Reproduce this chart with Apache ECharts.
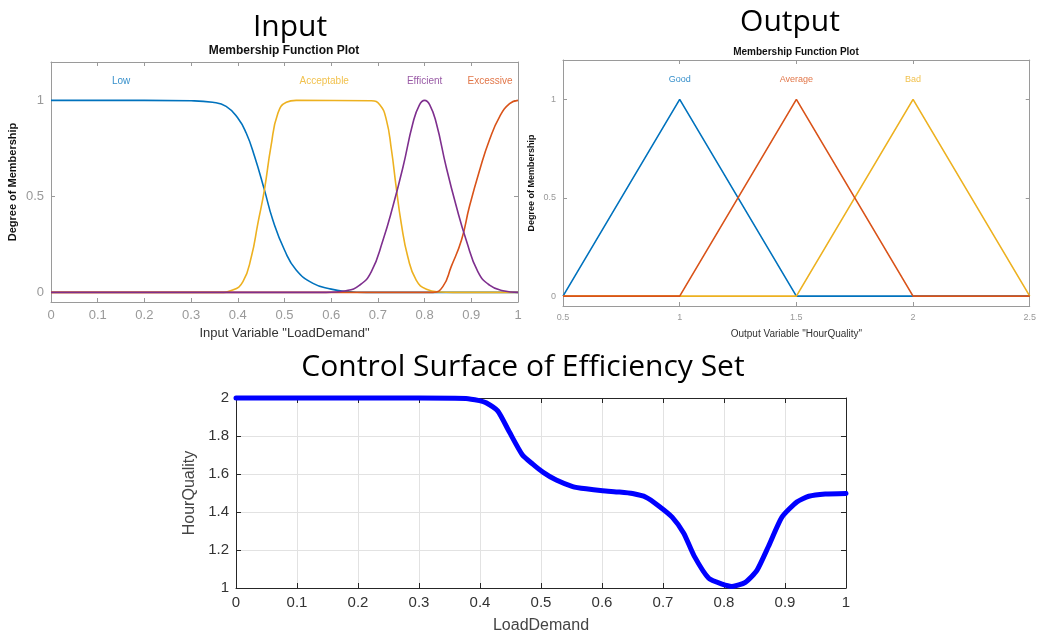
<!DOCTYPE html>
<html>
<head>
<meta charset="utf-8">
<script src="https://cdn.jsdelivr.net/npm/echarts@6.0.0/dist/echarts.min.js"></script>
<style>
html, body { margin: 0; padding: 0; background: #fff; }
#main { width: 1039px; height: 635px; }
</style>
</head>
<body>
<div id="main"></div>
<script>
// input membership functions as [LoadDemand, degree]
var lowPts = [[0,1],[0.2,1],[0.3,0.998],[0.346,0.99],[0.375,0.969],[0.4,0.908],[0.418,0.83],[0.436,0.708],[0.457,0.534],[0.475,0.377],[0.5,0.221],[0.525,0.117],[0.561,0.047],[0.6,0.017],[0.632,0.005],[0.675,0],[1,0]];
var acceptablePts = [[0,0],[0.361,0],[0.389,0.012],[0.411,0.056],[0.429,0.186],[0.443,0.36],[0.457,0.534],[0.471,0.76],[0.486,0.934],[0.504,0.99],[0.525,1],[0.686,0.998],[0.704,0.977],[0.718,0.9],[0.729,0.743],[0.739,0.551],[0.75,0.36],[0.764,0.186],[0.782,0.064],[0.804,0.016],[0.832,0.002],[0.86,0],[1,0]];
var efficientPts = [[0,0],[0.589,0],[0.632,0.009],[0.661,0.038],[0.686,0.108],[0.711,0.273],[0.732,0.447],[0.754,0.656],[0.775,0.882],[0.789,0.977],[0.8,1],[0.811,0.977],[0.825,0.882],[0.846,0.656],[0.868,0.447],[0.889,0.273],[0.914,0.108],[0.939,0.038],[0.968,0.009],[1,0]];
var excessivePts = [[0,0],[0.818,0],[0.839,0.03],[0.857,0.134],[0.879,0.273],[0.896,0.447],[0.918,0.638],[0.939,0.795],[0.961,0.917],[0.982,0.983],[1,1]];
var inputNames = ['Low', 'Acceptable', 'Efficient', 'Excessive'];
var inputLabelX = [0.15, 0.585, 0.8, 0.94];

// output membership functions (triangles) as [HourQuality, degree]
var goodPts = [[0.5,0],[1,1],[1.5,0],[2.5,0]];
var averagePts = [[0.5,0],[1,0],[1.5,1],[2,0],[2.5,0]];
var badPts = [[0.5,0],[1.5,0],[2,1],[2.5,0]];
var outputNames = ['Good', 'Average', 'Bad'];
var outputLabelX = [1, 1.5, 2];

var mfLabelY = 1.1;
var mfYTicks = [0, 0.5, 1];

// control surface
var surfX = [0, 0.1, 0.2, 0.3, 0.377, 0.399, 0.41, 0.429, 0.448, 0.469, 0.486, 0.503, 0.525, 0.552, 0.574, 0.601, 0.628, 0.65, 0.672, 0.693, 0.715, 0.734, 0.751, 0.775, 0.797, 0.813, 0.835, 0.854, 0.873, 0.895, 0.92, 0.939, 0.966, 1.0];
var surfY = [2, 2, 2, 2, 1.998, 1.986, 1.975, 1.932, 1.822, 1.703, 1.653, 1.61, 1.568, 1.534, 1.522, 1.512, 1.505, 1.497, 1.478, 1.432, 1.373, 1.288, 1.169, 1.051, 1.02, 1.008, 1.03, 1.093, 1.22, 1.373, 1.454, 1.483, 1.495, 1.498];

var BLUE = '#0072BD', ORANGE = '#D95319', YELLOW = '#EDB120', PURPLE = '#7E2F8E';
var FONT = 'Liberation Sans';
var BIG = 'Open Sans';

function fmt(v) { return String(+v.toFixed(2)); }

// one axis; mirror axes get ticks only
function axis(grid, pos, min, max, o) {
	var a = {
		gridIndex: grid, position: pos, type: 'value', min: min, max: max,
		axisLine: { show: true, onZero: false, lineStyle: { color: o.line, width: 1 } },
		axisTick: { show: true, inside: true, length: o.tickLen || 4, lineStyle: { color: o.line } },
		axisLabel: { show: !o.mirror, formatter: fmt, color: o.labelColor, fontSize: o.labelSize, fontFamily: FONT, margin: o.margin },
		splitLine: { show: !!o.split && !o.mirror, lineStyle: { color: '#e2e2e2', width: 1 } }
	};
	if (o.interval) a.interval = o.interval;
	if (o.ticks) {
		a.axisTick.customValues = o.ticks;
		a.axisLabel.customValues = o.ticks;
	}
	if (o.name && !o.mirror) {
		a.name = o.name;
		a.nameLocation = 'middle';
		a.nameGap = o.nameGap;
		a.nameTextStyle = { fontFamily: FONT, fontSize: o.nameSize, color: o.nameColor, fontWeight: o.nameWeight || 'normal' };
	}
	return a;
}

function mfLine(pts, color, xi, yi, smooth) {
	return {
		type: 'line', data: pts, xAxisIndex: xi, yAxisIndex: yi,
		showSymbol: false, smooth: smooth,
		lineStyle: { color: color, width: 1.6 }, silent: true
	};
}

function mfLabels(names, xs, colors, size, xi, yi) {
	return {
		type: 'scatter', xAxisIndex: xi, yAxisIndex: yi, symbolSize: 1, silent: true,
		itemStyle: { color: 'rgba(0,0,0,0)' },
		label: { show: true, position: 'inside', fontFamily: FONT, fontSize: size, formatter: '{b}' },
		data: names.map(function (n, i) {
			return { name: n, value: [xs[i], mfLabelY], label: { color: colors[i] } };
		})
	};
}

var inStyle = { line: '#9a9a9a', labelColor: '#999', labelSize: 13, margin: 7 };
var outStyle = { line: '#9a9a9a', labelColor: '#999', labelSize: 9, margin: 7 };
var surfStyle = { line: '#262626', labelColor: '#333', labelSize: 15, margin: 7, split: true, tickLen: 5 };

function ext(base, more) { var r = {}; for (var k in base) r[k] = base[k]; for (var m in more) r[m] = more[m]; return r; }

var bigText = { fontFamily: BIG, fontSize: 30, fontWeight: 'normal', color: '#000' };

var option = {
	animation: false,
	title: [
		{ text: 'Input', left: 290, top: 12, textAlign: 'center', padding: 0, textStyle: bigText },
		{ text: 'Output', left: 790, top: 7, textAlign: 'center', padding: 0, textStyle: bigText },
		{ text: 'Control Surface of Efficiency Set', left: 523, top: 352, textAlign: 'center', padding: 0, textStyle: bigText },
		{ text: 'Membership Function Plot', left: 284, top: 45, textAlign: 'center', padding: 0, textStyle: { fontFamily: FONT, fontSize: 12, fontWeight: 'bold', color: '#111' } },
		{ text: 'Membership Function Plot', left: 796, top: 47, textAlign: 'center', padding: 0, textStyle: { fontFamily: FONT, fontSize: 10, fontWeight: 'bold', color: '#111' } }
	],
	grid: [
		{ left: 51, top: 62, width: 467, height: 240 },
		{ left: 563, top: 60, width: 469, height: 246 },
		{ left: 236, top: 398, width: 610, height: 197 }
	],
	xAxis: [
		axis(0, 'bottom', 0, 1, ext(inStyle, { interval: 0.1, name: 'Input Variable "LoadDemand"', nameGap: 25, nameSize: 13, nameColor: '#333' })),
		axis(0, 'top', 0, 1, ext(inStyle, { interval: 0.1, mirror: true })),
		axis(1, 'bottom', 0.5, 2.5, ext(outStyle, { interval: 0.5, name: 'Output Variable "HourQuality"', nameGap: 23, nameSize: 10, nameColor: '#333' })),
		axis(1, 'top', 0.5, 2.5, ext(outStyle, { interval: 0.5, mirror: true })),
		axis(2, 'bottom', 0, 1, ext(surfStyle, { interval: 0.1, name: 'LoadDemand', nameGap: 30, nameSize: 16, nameColor: '#444' })),
		axis(2, 'top', 0, 1, ext(surfStyle, { interval: 0.1, mirror: true }))
	],
	yAxis: [
		axis(0, 'left', -0.05, 1.2, ext(inStyle, { ticks: mfYTicks, name: 'Degree of Membership', nameGap: 33, nameSize: 11, nameColor: '#111', nameWeight: 'bold' })),
		axis(0, 'right', -0.05, 1.2, ext(inStyle, { ticks: mfYTicks, mirror: true })),
		axis(1, 'left', -0.05, 1.2, ext(outStyle, { ticks: mfYTicks, name: 'Degree of Membership', nameGap: 27, nameSize: 9, nameColor: '#111', nameWeight: 'bold' })),
		axis(1, 'right', -0.05, 1.2, ext(outStyle, { ticks: mfYTicks, mirror: true })),
		axis(2, 'left', 1, 2, ext(surfStyle, { interval: 0.2, name: 'HourQuality', nameGap: 38, nameSize: 16, nameColor: '#444' })),
		axis(2, 'right', 1, 2, ext(surfStyle, { interval: 0.2, mirror: true }))
	],
	series: [
		mfLine(lowPts, BLUE, 0, 0, 0.5),
		mfLine(acceptablePts, YELLOW, 0, 0, 0.5),
		mfLine(excessivePts, ORANGE, 0, 0, 0.5),
		mfLine(efficientPts, PURPLE, 0, 0, 0.5),
		mfLabels(inputNames, inputLabelX, [BLUE, YELLOW, PURPLE, ORANGE], 10, 0, 0),
		mfLine(goodPts, BLUE, 2, 2, false),
		mfLine(badPts, YELLOW, 2, 2, false),
		mfLine(averagePts, ORANGE, 2, 2, false),
		mfLabels(outputNames, outputLabelX, [BLUE, ORANGE, YELLOW], 9, 2, 2),
		{
			type: 'line', xAxisIndex: 4, yAxisIndex: 4, showSymbol: false, smooth: 0.2, clip: false, silent: true,
			data: surfX.map(function (x, i) { return [x, surfY[i]]; }),
			lineStyle: { color: '#0000ff', width: 5, cap: 'round', join: 'round' }
		}
	]
};

var myChart = echarts.init(document.getElementById('main'));
myChart.setOption(option);
</script>
</body>
</html>
